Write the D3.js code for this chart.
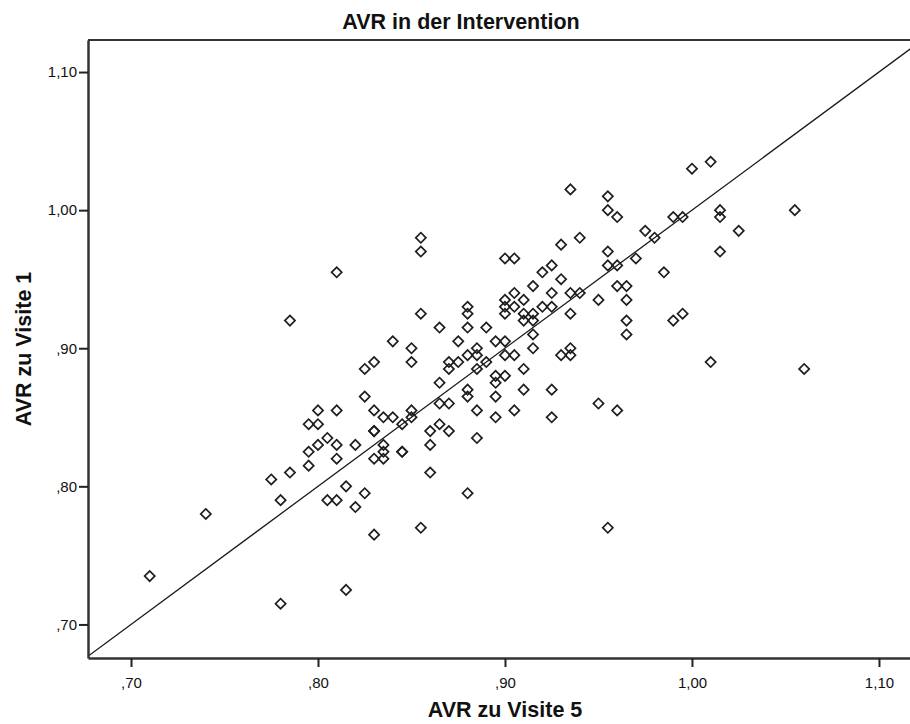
<!DOCTYPE html>
<html>
<head>
<meta charset="utf-8">
<script src="https://cdn.jsdelivr.net/npm/d3@7"></script>
<style>
  html, body { margin: 0; padding: 0; background: #fff; }
  svg { display: block; }
  text { font-family: "Liberation Sans", Arial, sans-serif; fill: #111; }
</style>
</head>
<body>
<script>
// AVR at visit 5 (x) and visit 1 (y), one entry per subject
const visit5 = [
  0.81, 0.785, 0.83, 0.825, 0.825,
  0.84, 0.935, 0.955, 0.955, 0.96, 0.99, 0.975, 0.98, 0.94, 0.93,
  0.855, 0.855, 0.90, 0.905, 0.955, 0.955, 0.96, 0.97, 0.985, 0.99,
  0.925, 0.92, 0.93, 0.915, 0.905, 0.90, 0.91, 0.90, 0.905, 0.90,
  0.925, 0.935, 0.94, 0.92, 0.925, 0.915, 0.91, 0.91, 0.915, 0.935,
  0.95, 0.96, 0.965, 0.965, 0.965, 0.965, 0.88, 0.88, 0.855, 0.865,
  0.88, 0.89, 0.915, 0.875, 0.895, 0.90, 0.85, 0.85, 0.885, 0.885,
  0.88, 0.875, 0.87, 0.87, 0.885, 0.89, 0.90, 0.905, 0.915, 0.91,
  0.93, 0.935, 0.935, 0.895, 0.895, 0.90, 0.865, 0.88, 0.88, 0.895,
  0.91, 0.925, 0.95,
  1.00, 1.01, 1.015, 1.015, 0.995, 1.025, 1.055, 1.015, 0.995, 1.01, 1.06,
  0.80, 0.81, 0.83, 0.835, 0.795, 0.80, 0.83, 0.83, 0.805, 0.80,
  0.81, 0.82, 0.795, 0.835, 0.835, 0.835, 0.83, 0.81, 0.795, 0.785,
  0.775, 0.78, 0.805, 0.81, 0.815, 0.825, 0.82, 0.83, 0.74, 0.71,
  0.78, 0.815,
  0.96, 0.84, 0.85, 0.85, 0.845, 0.865, 0.87, 0.885, 0.895, 0.905,
  0.925, 0.86, 0.865, 0.87, 0.86, 0.885, 0.845, 0.845, 0.86, 0.88,
  0.855, 0.955
];
const visit1 = [
  0.955, 0.92, 0.89, 0.885, 0.865,
  0.905, 1.015, 1.01, 1.00, 0.995, 0.995, 0.985, 0.98, 0.98, 0.975,
  0.98, 0.97, 0.965, 0.965, 0.97, 0.96, 0.96, 0.965, 0.955, 0.92,
  0.96, 0.955, 0.95, 0.945, 0.94, 0.935, 0.935, 0.93, 0.93, 0.925,
  0.94, 0.94, 0.94, 0.93, 0.93, 0.925, 0.925, 0.92, 0.92, 0.925,
  0.935, 0.945, 0.945, 0.935, 0.92, 0.91, 0.93, 0.925, 0.925, 0.915,
  0.915, 0.915, 0.91, 0.905, 0.905, 0.905, 0.90, 0.89, 0.90, 0.895,
  0.895, 0.89, 0.89, 0.885, 0.885, 0.89, 0.895, 0.895, 0.90, 0.885,
  0.895, 0.895, 0.90, 0.88, 0.875, 0.88, 0.875, 0.87, 0.865, 0.865,
  0.87, 0.87, 0.86,
  1.03, 1.035, 1.00, 0.995, 0.995, 0.985, 1.00, 0.97, 0.925, 0.89, 0.885,
  0.855, 0.855, 0.855, 0.85, 0.845, 0.845, 0.84, 0.84, 0.835, 0.83,
  0.83, 0.83, 0.825, 0.83, 0.825, 0.82, 0.82, 0.82, 0.815, 0.81,
  0.805, 0.79, 0.79, 0.79, 0.80, 0.795, 0.785, 0.765, 0.78, 0.735,
  0.715, 0.725,
  0.855, 0.85, 0.855, 0.85, 0.845, 0.86, 0.86, 0.855, 0.85, 0.855,
  0.85, 0.84, 0.845, 0.84, 0.83, 0.835, 0.825, 0.825, 0.81, 0.795,
  0.77, 0.77
];
const tickValues = [0.70, 0.80, 0.90, 1.00, 1.10];
const chartTitle = "AVR in der Intervention";
const xTitle = "AVR zu Visite 5";
const yTitle = "AVR zu Visite 1";

const W = 910, H = 724;
const plot = { left: 88, right: 910, top: 40, bottom: 658 };

const svg = d3.select("body").append("svg")
  .attr("width", W).attr("height", H);

const x = d3.scaleLinear().domain([0.677, 1.1166]).range([plot.left, plot.right]);
const y = d3.scaleLinear().domain([0.6757, 1.1232]).range([plot.bottom, plot.top]);

// German-style decimal labels: ",70", "1,00"
const fmt = v => d3.format(".2f")(v).replace(/^0/, "").replace(".", ",");

svg.append("defs").append("clipPath").attr("id", "plotClip")
  .append("rect")
  .attr("x", plot.left).attr("y", plot.top)
  .attr("width", plot.right - plot.left).attr("height", plot.bottom - plot.top);

// identity reference line y = x
const lo = Math.min(x.domain()[0], y.domain()[0]);
const hi = Math.max(x.domain()[1], y.domain()[1]);
svg.append("line")
  .attr("clip-path", "url(#plotClip)")
  .attr("x1", x(lo)).attr("y1", y(lo))
  .attr("x2", x(hi)).attr("y2", y(hi))
  .attr("stroke", "#1a1a1a").attr("stroke-width", 1.3);

// hollow diamond markers
const diamond = d3.symbol().type(d3.symbolSquare).size(52);
svg.append("g").attr("clip-path", "url(#plotClip)")
  .selectAll("path").data(d3.range(visit5.length)).join("path")
  .attr("d", diamond)
  .attr("transform", i => `translate(${x(visit5[i])},${y(visit1[i])}) rotate(45)`)
  .attr("fill", "none")
  .attr("stroke", "#1e1e1e")
  .attr("stroke-width", 1.7);

// frame: top border
svg.append("line")
  .attr("x1", plot.left).attr("x2", plot.right)
  .attr("y1", plot.top).attr("y2", plot.top)
  .attr("stroke", "#333").attr("stroke-width", 2);

const xAxis = svg.append("g")
  .attr("transform", `translate(0,${plot.bottom})`)
  .call(d3.axisBottom(x).tickValues(tickValues).tickFormat(fmt).tickSize(9).tickSizeOuter(0));
const yAxis = svg.append("g")
  .attr("transform", `translate(${plot.left},0)`)
  .call(d3.axisLeft(y).tickValues(tickValues).tickFormat(fmt).tickSize(9).tickSizeOuter(0));

[xAxis, yAxis].forEach(g => {
  g.select(".domain").attr("stroke", "#333").attr("stroke-width", 2.5);
  g.selectAll(".tick line").attr("stroke", "#222").attr("stroke-width", 2);
  g.selectAll(".tick text").attr("font-size", 15)
    .style("font-family", '"Liberation Sans", Arial, sans-serif').attr("fill", "#111");
});
xAxis.selectAll(".tick text").attr("dy", "0.71em").attr("y", 19);
yAxis.selectAll(".tick text").attr("x", -11);

svg.append("text")
  .attr("x", 461).attr("y", 29)
  .attr("text-anchor", "middle")
  .attr("font-size", 21.5).attr("font-weight", "bold")
  .text(chartTitle);

svg.append("text")
  .attr("x", 505).attr("y", 717)
  .attr("text-anchor", "middle")
  .attr("font-size", 21.5).attr("font-weight", "bold")
  .text(xTitle);

svg.append("text")
  .attr("transform", `translate(31,${(plot.top + plot.bottom) / 2}) rotate(-90)`)
  .attr("text-anchor", "middle")
  .attr("font-size", 21.5).attr("font-weight", "bold")
  .text(yTitle);
</script>
</body>
</html>
